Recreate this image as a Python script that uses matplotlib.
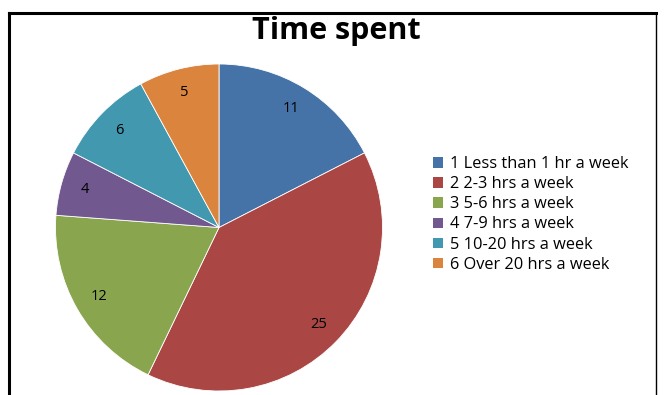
import matplotlib.pyplot as plt
from matplotlib.lines import Line2D

labels = ["1 Less than 1 hr a week", "2 2-3 hrs a week", "3 5-6 hrs a week",
          "4 7-9 hrs a week", "5 10-20 hrs a week", "6 Over 20 hrs a week"]
values = [11, 25, 12, 4, 6, 5]
colors = ["#4572A7", "#AA4643", "#89A54E", "#71588F", "#4198AF", "#DB843D"]

W, H = 665, 395
fig = plt.figure(figsize=(W / 100, H / 100), dpi=100)
plt.rcParams['font.family'] = ['Open Sans', 'DejaVu Sans']

# chart frame (left, top, right edges)
fig.add_artist(Line2D([9 / W, 9 / W], [0, 1 - 13 / H], color="black", lw=2.2))
fig.add_artist(Line2D([9 / W, 656 / W], [1 - 13 / H, 1 - 13 / H], color="black", lw=2.2))
fig.add_artist(Line2D([656 / W, 656 / W], [0, 1 - 13 / H], color="black", lw=1.0))

ax = fig.add_axes([55 / W, 4 / H, 328 / W, 327 / H])
wedges, texts = ax.pie(values, colors=colors, startangle=90, counterclock=False,
                       labels=[str(v) for v in values], labeldistance=0.85,
                       radius=1, wedgeprops=dict(linewidth=0.6, edgecolor="white"),
                       textprops=dict(fontsize=10.5, color="black"))
for t in texts:
    t.set_horizontalalignment("center")
ax.set_xlim(-1, 1)
ax.set_ylim(-1, 1)

fig.text(336 / W, 1 - 39 / H, "Time spent", ha="center", va="baseline",
         fontsize=22, fontweight="bold")

leg = fig.legend(wedges, labels, loc="upper left",
                 bbox_to_anchor=(425 / W, 1 - 148 / H), frameon=False,
                 fontsize=11.8, handlelength=0.6, handleheight=0.6,
                 handletextpad=0.4, labelspacing=0.25, borderpad=0)
for h in leg.legend_handles:
    h.set_edgecolor("none")

fig.savefig("out.png", dpi=100)
